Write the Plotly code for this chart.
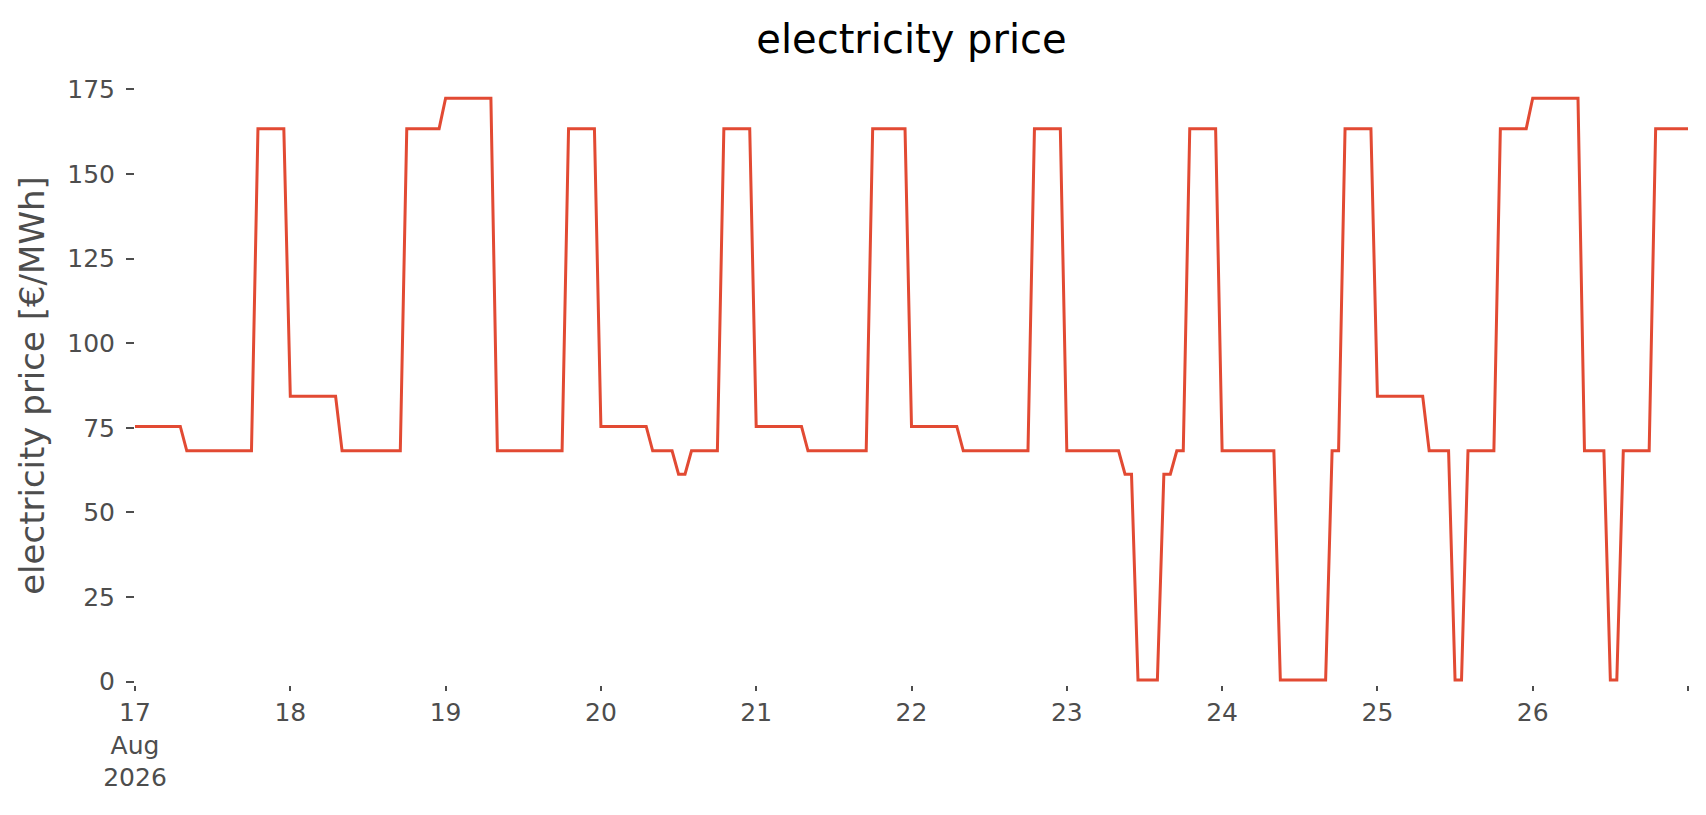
import pandas as pd
import plotly.graph_objects as go

# hourly electricity price [€/MWh], one list per day (hours 0..23)
aug_17 = [75.4, 75.4, 75.4, 75.4, 75.4, 75.4, 75.4, 75.4,
          68.2, 68.2, 68.2, 68.2, 68.2, 68.2, 68.2, 68.2, 68.2, 68.2, 68.2,
          163.4, 163.4, 163.4, 163.4, 163.4]
aug_18 = [84.3, 84.3, 84.3, 84.3, 84.3, 84.3, 84.3, 84.3,
          68.2, 68.2, 68.2, 68.2, 68.2, 68.2, 68.2, 68.2, 68.2, 68.2,
          163.4, 163.4, 163.4, 163.4, 163.4, 163.4]
aug_19 = [172.4, 172.4, 172.4, 172.4, 172.4, 172.4, 172.4, 172.4,
          68.2, 68.2, 68.2, 68.2, 68.2, 68.2, 68.2, 68.2, 68.2, 68.2, 68.2,
          163.4, 163.4, 163.4, 163.4, 163.4]
aug_20 = [75.4, 75.4, 75.4, 75.4, 75.4, 75.4, 75.4, 75.4,
          68.2, 68.2, 68.2, 68.2, 61.3, 61.3, 68.2, 68.2, 68.2, 68.2, 68.2,
          163.4, 163.4, 163.4, 163.4, 163.4]
aug_21 = [75.4, 75.4, 75.4, 75.4, 75.4, 75.4, 75.4, 75.4,
          68.2, 68.2, 68.2, 68.2, 68.2, 68.2, 68.2, 68.2, 68.2, 68.2,
          163.4, 163.4, 163.4, 163.4, 163.4, 163.4]
aug_22 = [75.4, 75.4, 75.4, 75.4, 75.4, 75.4, 75.4, 75.4,
          68.2, 68.2, 68.2, 68.2, 68.2, 68.2, 68.2, 68.2, 68.2, 68.2, 68.2,
          163.4, 163.4, 163.4, 163.4, 163.4]
aug_23 = [68.2, 68.2, 68.2, 68.2, 68.2, 68.2, 68.2, 68.2, 68.2,
          61.3, 61.3, 0.5, 0.5, 0.5, 0.5, 61.3, 61.3, 68.2, 68.2,
          163.4, 163.4, 163.4, 163.4, 163.4]
aug_24 = [68.2, 68.2, 68.2, 68.2, 68.2, 68.2, 68.2, 68.2, 68.2,
          0.5, 0.5, 0.5, 0.5, 0.5, 0.5, 0.5, 0.5, 68.2, 68.2,
          163.4, 163.4, 163.4, 163.4, 163.4]
aug_25 = [84.3, 84.3, 84.3, 84.3, 84.3, 84.3, 84.3, 84.3,
          68.2, 68.2, 68.2, 68.2, 0.5, 0.5, 68.2, 68.2, 68.2, 68.2, 68.2,
          163.4, 163.4, 163.4, 163.4, 163.4]
aug_26 = [172.4, 172.4, 172.4, 172.4, 172.4, 172.4, 172.4, 172.4,
          68.2, 68.2, 68.2, 68.2, 0.5, 0.5, 68.2, 68.2, 68.2, 68.2, 68.2,
          163.4, 163.4, 163.4, 163.4, 163.4]
aug_27 = [163.4]

price = aug_17 + aug_18 + aug_19 + aug_20 + aug_21 + aug_22 + aug_23 + aug_24 + aug_25 + aug_26 + aug_27
time = pd.date_range("2026-08-17 00:00", periods=len(price), freq="h")

tick_days = pd.date_range("2026-08-17", "2026-08-27", freq="D")
tick_labels = ["17<br>Aug<br>2026", "18", "19", "20", "21", "22", "23", "24", "25", "26", ""]

font = "DejaVu Sans"
grey = "#4d4d4d"

fig = go.Figure()
fig.add_trace(go.Scatter(x=time, y=price, mode="lines", name="electricity price",
                         line={'color': '#E24A33', 'width': 3}))

fig.update_layout(
    width=1706, height=815,
    paper_bgcolor="white", plot_bgcolor="white",
    showlegend=False,
    margin=dict(l=127, r=26, t=78, b=138),
    font=dict(family=font, color=grey),
    title=dict(text="electricity price", x=0.5, xref="paper", xanchor="center",
               y=0.962, yref="container", yanchor="middle",
               font=dict(family=font, size=40, color="black")),
)
fig.update_xaxes(
    range=[time[0], pd.Timestamp("2026-08-27 00:00")],
    tickvals=tick_days, ticktext=tick_labels,
    showgrid=False, zeroline=False, showline=False,
    ticks="outside", ticklen=5, tickwidth=1.5, tickcolor=grey,
    tickfont=dict(family=font, size=25, color=grey),
)
fig.update_yaxes(
    title=dict(text="electricity price [€/MWh]", font=dict(family=font, size=34, color=grey), standoff=12),
    range=[-1, 176], dtick=25,
    showgrid=False, zeroline=False, showline=False,
    ticks="outside", ticklen=8, tickwidth=1.5, tickcolor=grey, ticklabelstandoff=6,
    tickfont=dict(family=font, size=25, color=grey),
)

fig.write_html("out.html")
